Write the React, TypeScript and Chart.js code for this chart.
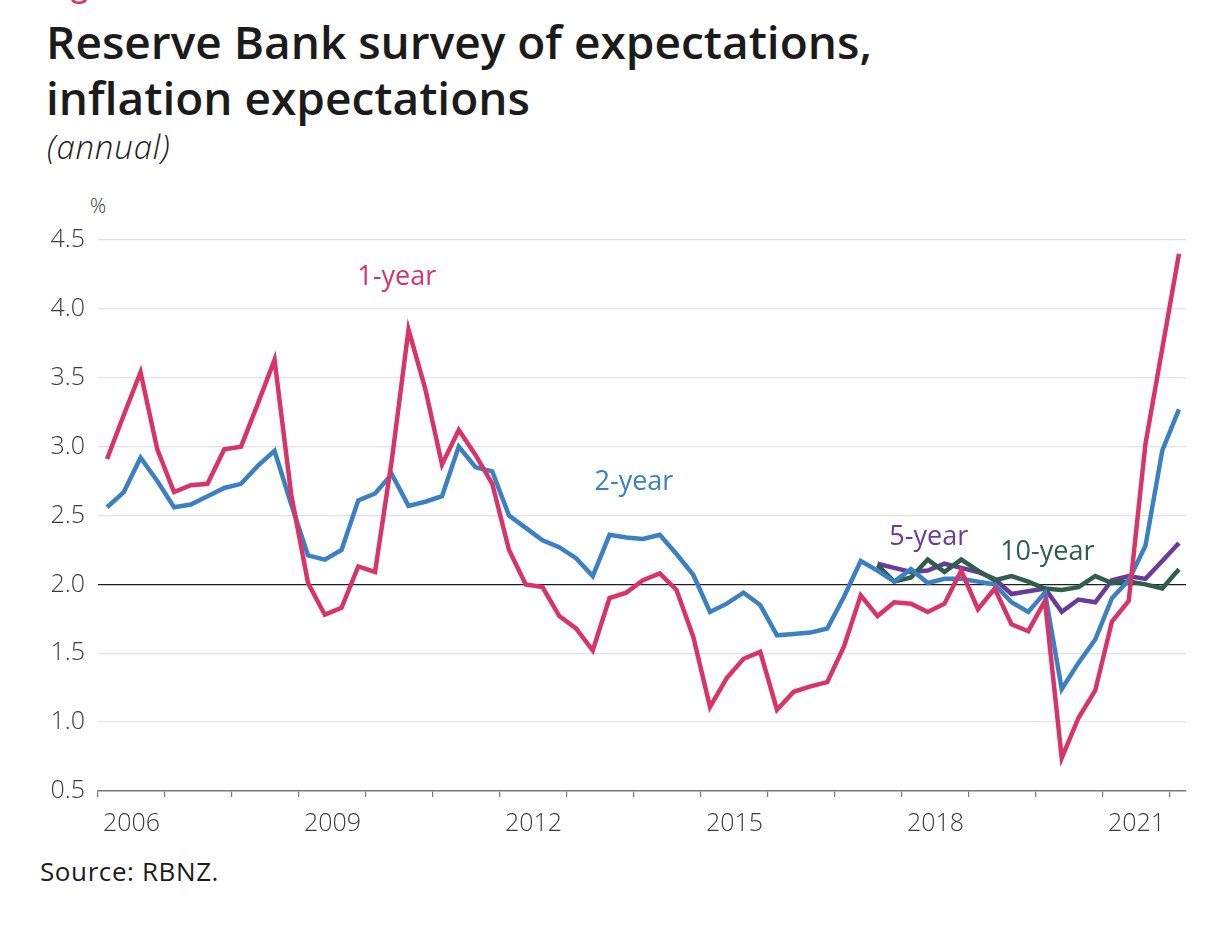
import { useEffect, useRef } from 'react';
import { Chart, registerables } from 'chart.js';

Chart.register(...registerables);

// Quarterly survey, 2006Q1 .. 2022Q1
const quarters: string[] = [];
for (let y = 2006; y <= 2022; y++) {
  for (let q = 1; q <= 4; q++) {
    if (quarters.length < 65) quarters.push(`${y}Q${q}`);
  }
}

const oneYear = [
  2.91, 3.23, 3.54, 2.98, 2.67, 2.72, 2.73, 2.98, 3.0, 3.31, 3.63, 2.65, 2.01,
  1.78, 1.83, 2.13, 2.09, 2.9, 3.85, 3.42, 2.87, 3.12, 2.94, 2.73, 2.25, 2.0,
  1.98, 1.77, 1.68, 1.52, 1.9, 1.94, 2.03, 2.08, 1.96, 1.62, 1.11, 1.32, 1.46,
  1.51, 1.09, 1.22, 1.26, 1.29, 1.55, 1.92, 1.77, 1.87, 1.86, 1.8, 1.86, 2.1,
  1.82, 1.97, 1.71, 1.66, 1.88, 0.74, 1.03, 1.23, 1.73, 1.88, 3.02, 3.71, 4.4,
];

const twoYear = [
  2.56, 2.67, 2.92, 2.75, 2.56, 2.58, 2.64, 2.7, 2.73, 2.86, 2.97, 2.58, 2.21,
  2.18, 2.25, 2.61, 2.66, 2.8, 2.57, 2.6, 2.64, 3.0, 2.85, 2.82, 2.5, 2.41,
  2.32, 2.27, 2.19, 2.06, 2.36, 2.34, 2.33, 2.36, 2.22, 2.07, 1.8, 1.86, 1.94,
  1.85, 1.63, 1.64, 1.65, 1.68, 1.91, 2.17, 2.1, 2.02, 2.11, 2.01, 2.04, 2.04,
  2.02, 2.0, 1.87, 1.8, 1.94, 1.24, 1.43, 1.6, 1.9, 2.03, 2.28, 2.97, 3.27,
];

// 5-year and 10-year series start in 2017Q3
const longStart = '2017Q3';
const fiveYear = [
  2.15, 2.12, 2.09, 2.1, 2.15, 2.12, 2.09, 2.04, 1.93, 1.95, 1.97, 1.8, 1.89,
  1.87, 2.03, 2.06, 2.04, 2.17, 2.3,
];
const tenYear = [
  2.14, 2.02, 2.05, 2.18, 2.09, 2.18, 2.1, 2.03, 2.06, 2.02, 1.97, 1.96, 1.98,
  2.06, 2.01, 2.02, 2.0, 1.97, 2.11,
];

const yTicks = [0.5, 1.0, 1.5, 2.0, 2.5, 3.0, 3.5, 4.0, 4.5];
const yearTicks = [
  2006, 2007, 2008, 2009, 2010, 2011, 2012, 2013, 2014, 2015, 2016, 2017, 2018,
  2019, 2020, 2021, 2022,
];
const yearLabels = ['2006', '2009', '2012', '2015', '2018', '2021'];

const PINK = '#d8346a';
const BLUE = '#3a80c3';
const PURPLE = '#6a3b98';
const GREEN = '#2e5e4c';

const quarterToX = (label: string) => {
  const [y, q] = label.split('Q').map(Number);
  return y + (q - 1) / 4 + 0.135;
};

const toPoints = (values: number[], startLabel: string) => {
  const start = quarters.indexOf(startLabel);
  return values.map((v, i) => ({ x: quarterToX(quarters[start + i]), y: v }));
};

const seriesLabels = [
  { text: '1-year', x: 2010.46, y: 4.23, color: PINK },
  { text: '2-year', x: 2014.0, y: 2.74, color: BLUE },
  { text: '5-year', x: 2018.4, y: 2.34, color: PURPLE },
  { text: '10-year', x: 2020.17, y: 2.23, color: GREEN },
];

const labelPlugin = {
  id: 'seriesLabels',
  afterDatasetsDraw(chart: any) {
    const { ctx, scales } = chart;
    ctx.save();
    ctx.font = '27px "Open Sans"';
    ctx.textAlign = 'center';
    ctx.textBaseline = 'middle';
    for (const l of seriesLabels) {
      ctx.fillStyle = l.color;
      ctx.fillText(l.text, scales.x.getPixelForValue(l.x), scales.y.getPixelForValue(l.y));
    }
    ctx.restore();
  },
};

export default function App() {
  const ref = useRef<HTMLCanvasElement>(null);

  useEffect(() => {
    if (!ref.current) return;
    const tickFont = { family: '"Open Sans"', size: 25, weight: 300 as any };
    const chart = new Chart(ref.current, {
      type: 'line',
      data: {
        datasets: [
          { label: '1-year', data: toPoints(oneYear, '2006Q1'), borderColor: PINK },
          { label: '2-year', data: toPoints(twoYear, '2006Q1'), borderColor: BLUE },
          { label: '10-year', data: toPoints(tenYear, longStart), borderColor: GREEN },
          { label: '5-year', data: toPoints(fiveYear, longStart), borderColor: PURPLE },
        ],
      },
      options: {
        animation: false,
        responsive: false,
        maintainAspectRatio: false,
        layout: { padding: { top: 50, right: 14, left: 0, bottom: 0 } },
        plugins: { legend: { display: false }, tooltip: { enabled: false } },
        elements: {
          point: { radius: 0 },
          line: { tension: 0, borderWidth: 4.5, fill: false, borderJoinStyle: 'miter' },
        },
        scales: {
          x: {
            type: 'linear',
            min: 2006,
            max: 2022.24,
            afterBuildTicks: (s: any) => {
              s.ticks = yearTicks.map((v) => ({ value: v }));
            },
            afterFit: (s: any) => {
              s.height = 60;
            },
            grid: {
              drawOnChartArea: false,
              drawTicks: true,
              tickLength: 6,
              color: '#7a7a7a',
              lineWidth: 1.2,
            },
            border: { display: true, color: '#7a7a7a', width: 1.5 },
            ticks: {
              autoSkip: false,
              maxRotation: 0,
              labelOffset: 33.5,
              padding: 12,
              color: '#3c3c3c',
              font: tickFont,
              callback: (v: any) => (yearLabels.includes(String(v)) ? String(v) : ''),
            },
          },
          y: {
            min: 0.5,
            max: 4.5,
            afterBuildTicks: (s: any) => {
              s.ticks = yTicks.map((v) => ({ value: v }));
            },
            afterFit: (s: any) => {
              s.width = 98;
            },
            grid: {
              drawTicks: false,
              color: (c: any) => (c.tick && c.tick.value === 2 ? '#1e1e1e' : '#e2e2e2'),
              lineWidth: 1.3,
            },
            border: { display: false },
            ticks: {
              padding: 13,
              color: '#3c3c3c',
              font: tickFont,
              callback: (v: any) => Number(v).toFixed(1),
            },
          },
        },
      },
      plugins: [labelPlugin],
    });
    return () => chart.destroy();
  }, []);

  const titleStyle: any = {
    position: 'absolute',
    left: 46,
    fontFamily: '"Open Sans", sans-serif',
    fontWeight: 600,
    fontSize: 46,
    lineHeight: '56px',
    color: '#1b1b1b',
    whiteSpace: 'nowrap',
  };

  return (
    <div>
      <div
        style={{
          position: 'absolute',
          left: 47,
          top: -29,
          fontFamily: '"Open Sans", sans-serif',
          fontWeight: 600,
          fontSize: 30,
          lineHeight: '30px',
          color: PINK,
        }}
      >
        Figure 1
      </div>
      <div style={{ ...titleStyle, top: 13 }}>Reserve Bank survey of expectations,</div>
      <div style={{ ...titleStyle, top: 69 }}>inflation expectations</div>
      <div
        style={{
          position: 'absolute',
          left: 47,
          top: 126,
          fontFamily: '"Open Sans", sans-serif',
          fontStyle: 'italic',
          fontWeight: 300,
          fontSize: 33,
          lineHeight: '42px',
          letterSpacing: '0.8px',
          color: '#1b1b1b',
        }}
      >
        (annual)
      </div>
      <div
        style={{
          position: 'absolute',
          left: 90,
          top: 194,
          fontFamily: '"Open Sans", sans-serif',
          fontWeight: 300,
          fontSize: 20,
          lineHeight: '24px',
          color: '#333',
        }}
      >
        %
      </div>
      <canvas
        ref={ref}
        width={1200}
        height={661}
        style={{ position: 'absolute', left: 0, top: 190, width: 1200, height: 661 }}
      />
      <div
        style={{
          position: 'absolute',
          left: 40,
          top: 854,
          fontFamily: '"Open Sans", sans-serif',
          fontSize: 26,
          lineHeight: '34px',
          letterSpacing: '0.6px',
          color: '#1b1b1b',
        }}
      >
        Source: RBNZ.
      </div>
    </div>
  );
}
